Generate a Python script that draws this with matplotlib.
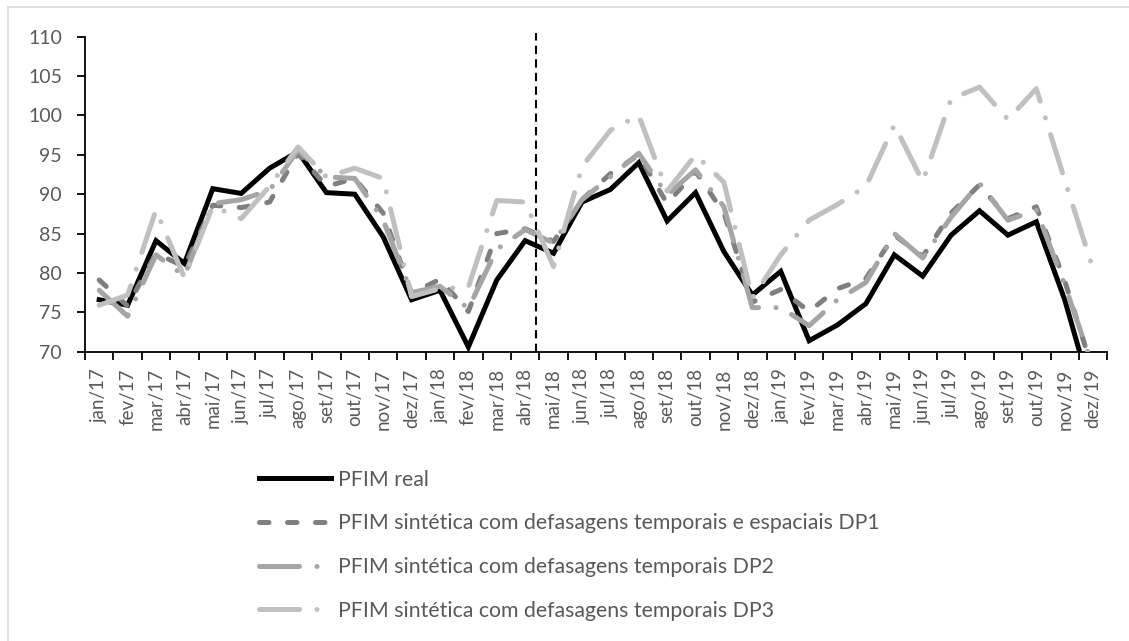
import matplotlib
matplotlib.use("Agg")
import matplotlib.pyplot as plt
from matplotlib.lines import Line2D
import numpy as np

plt.rcParams['font.family'] = ['Lato', 'DejaVu Sans']

# month labels
meses = ['jan', 'fev', 'mar', 'abr', 'mai', 'jun', 'jul', 'ago', 'set', 'out', 'nov', 'dez']
anos = ['17', '18', '19']
rotulos = [m + '/' + a for a in anos for m in meses]

# series
pfim_real = [76.6, 75.9, 84.1, 81.2, 90.7, 90.1, 93.3, 95.4, 90.2, 90.0, 84.6, 76.6,
             77.8, 70.6, 79.1, 84.1, 82.5, 89.0, 90.6, 94.0, 86.6, 90.2, 82.7, 77.2,
             80.2, 71.4, 73.4, 76.1, 82.3, 79.6, 84.8, 87.9, 84.8, 86.5, 76.6, 64.0]
dp1 = [79.1, 75.8, 82.5, 80.8, 88.6, 88.3, 89.0, 95.2, 91.0, 92.0, 87.6, 77.4,
       79.2, 75.1, 85.0, 85.6, 84.0, 89.3, 92.6, 95.0, 88.8, 92.9, 87.6, 76.3,
       77.9, 75.1, 78.0, 79.3, 84.8, 82.1, 87.6, 91.2, 86.9, 88.4, 79.0, 67.5]
dp2 = [77.8, 74.5, 82.3, 79.6, 88.8, 89.3, 90.5, 95.6, 92.2, 92.0, 86.7, 77.5,
       78.3, 75.5, 83.0, 85.5, 83.8, 89.3, 92.2, 95.2, 89.9, 93.1, 88.4, 75.6,
       75.6, 73.3, 76.6, 78.8, 85.0, 81.9, 87.1, 91.4, 86.7, 88.0, 78.5, 68.0]
dp3 = [75.9, 77.2, 88.0, 79.4, 88.5, 86.9, 91.0, 96.0, 92.2, 93.3, 92.0, 77.0,
       78.0, 78.2, 89.2, 89.0, 80.8, 93.5, 98.1, 100.0, 90.4, 95.0, 91.5, 76.8,
       82.3, 86.7, 88.7, 91.0, 98.8, 91.6, 102.1, 103.6, 99.5, 103.4, 91.8, 80.5]

nomes = ['PFIM real',
         'PFIM sintética com defasagens temporais e espaciais DP1',
         'PFIM sintética com defasagens temporais DP2',
         'PFIM sintética com defasagens temporais DP3']

corte = 15.38  # vertical divider (between abr/18 and mai/18)

x = np.arange(len(rotulos))

fig = plt.figure(figsize=(11.29, 6.41), dpi=100)
ax = fig.add_axes([85 / 1129, 1 - 351.7 / 641, (1107.3 - 85) / 1129, 315 / 641])

lw = 3.6
ax.plot(x, pfim_real, color='black', lw=lw, solid_joinstyle='miter', label=nomes[0], zorder=3)
ax.plot(x, dp1, color='#7f7f7f', lw=lw, linestyle=(0, (1.9, 3.7)),
        dash_capstyle='round', label=nomes[1], zorder=4)
ax.plot(x, dp2, color='#a5a5a5', lw=lw, linestyle=(0, (8, 3.5, 0.01, 3.5)),
        dash_capstyle='round', label=nomes[2], zorder=5)
ax.plot(x, dp3, color='#c0c0c0', lw=lw, linestyle=(0, (8, 3.5, 0.01, 3.5)),
        dash_capstyle='round', label=nomes[3], zorder=6)

ax.vlines(corte, 70, 110.47, colors='black', linestyles=(0, (4, 2.5)), lw=1.5,
          clip_on=False, zorder=7)

ax.set_xlim(-0.5, len(rotulos) - 0.5)
ax.set_ylim(70, 110)
ax.set_yticks(np.arange(70, 111, 5))
ax.set_xticks(np.arange(-0.5, len(rotulos), 1))
ax.set_xticklabels([])
ax.set_xticks(x, minor=True)
ax.set_xticklabels(rotulos, minor=True, rotation=90)

for s in ['top', 'right']:
    ax.spines[s].set_visible(False)
for s in ['left', 'bottom']:
    ax.spines[s].set_color('black')
    ax.spines[s].set_linewidth(1.3)

ax.tick_params(axis='both', which='major', direction='out', length=5.5, width=1.3,
               color='black')
ax.tick_params(axis='y', labelsize=14, labelcolor='#595959', pad=11)
ax.tick_params(axis='x', which='minor', length=0, labelsize=13.5,
               labelcolor='#595959', pad=12)

# chart border (only left and top edges visible)
fig.add_artist(Line2D([8.3 / 1129, 8.3 / 1129], [0, 1 - 7.3 / 641],
                      transform=fig.transFigure, color='#d9d9d9', lw=1.2))
fig.add_artist(Line2D([8.3 / 1129, 1], [1 - 7.3 / 641, 1 - 7.3 / 641],
                      transform=fig.transFigure, color='#d9d9d9', lw=1.2))

leg = fig.legend(loc='upper left', bbox_to_anchor=(250 / 1129, 1 - 461 / 641),
                 frameon=False, fontsize=15.3, handlelength=3.4, handletextpad=0.33,
                 labelspacing=1.12, borderaxespad=0)
for t in leg.get_texts():
    t.set_color('#595959')

fig.savefig('out.png', dpi=100)
